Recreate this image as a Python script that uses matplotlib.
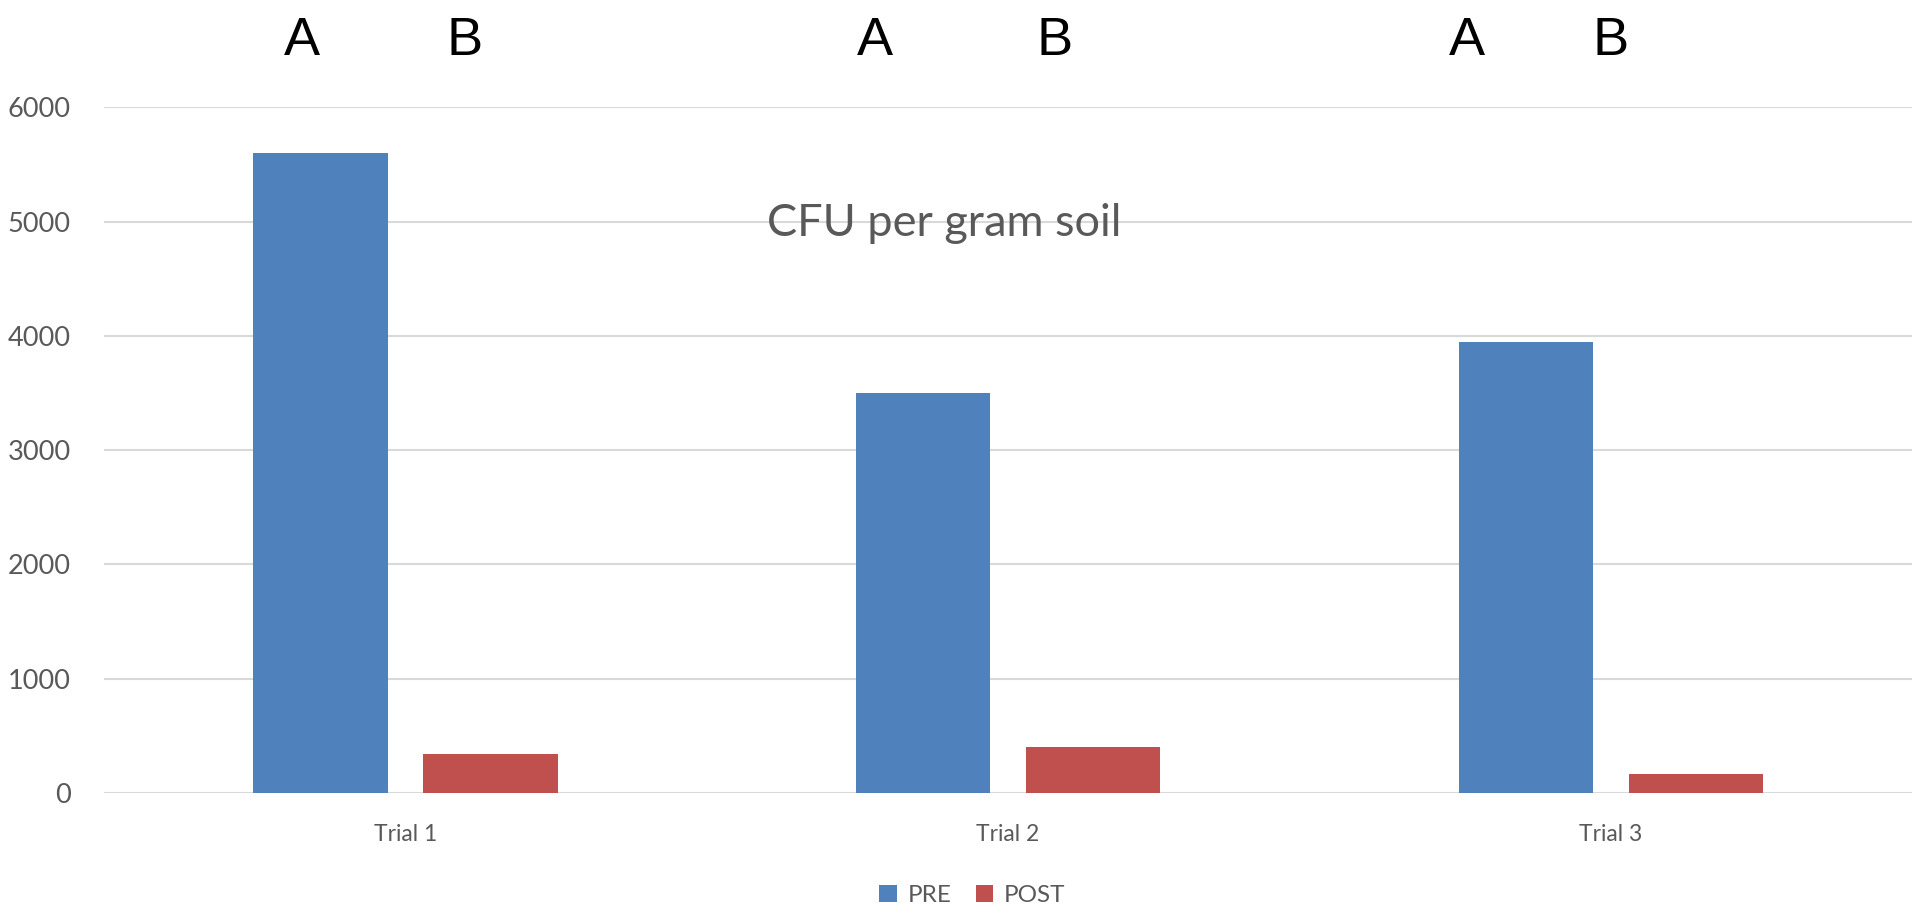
import numpy as np
import matplotlib.pyplot as plt

# Данные
trials = ['Trial 1', 'Trial 2', 'Trial 3']
pre_values = [5600, 3500, 3950]
post_values = [340, 405, 165]
series_names = ['PRE', 'POST']
yticks = [0, 1000, 2000, 3000, 4000, 5000, 6000]

# Подписи A/B над группами (смещение от центра группы)
letter_offsets_a = [-0.172, -0.221, -0.239]
letter_offsets_b = [0.098, 0.077, 0.0]

pre_color = '#4F81BD'
post_color = '#C0504D'
text_gray = '#595959'
grid_gray = '#D9D9D9'
font = ['Lato', 'DejaVu Sans']

fig = plt.figure(figsize=(19.16, 9.14), dpi=100)
ax = fig.add_axes([0.0543, 0.1324, 0.9437, 0.75])

x = np.arange(len(trials))
bar_w = 0.223
gap = 0.059
ax.bar(x - (bar_w + gap) / 2, pre_values, bar_w, color=pre_color, label=series_names[0], zorder=3)
ax.bar(x + (bar_w + gap) / 2, post_values, bar_w, color=post_color, label=series_names[1], zorder=3)

ax.set_xlim(-0.5, len(trials) - 0.5)
ax.set_ylim(0, 6000)
ax.set_yticks(yticks)
ax.set_yticklabels([str(v) for v in yticks], family=font, fontsize=19.5, color=text_gray)
ax.set_xticks(x)
ax.set_xticklabels(trials, family=font, fontsize=16.5, color=text_gray)
ax.tick_params(axis='both', length=0)
ax.tick_params(axis='y', pad=24)
ax.tick_params(axis='x', pad=22)
ax.yaxis.grid(True, color=grid_gray, linewidth=1.5, zorder=0)
for s in ax.spines.values():
    s.set_visible(False)

# Заголовок внутри области графика
fig.text(0.4927, 0.755, 'CFU per gram soil', family=font, fontsize=32.5,
         color=text_gray, ha='center', va='center')

# Буквы A и B
for i in range(len(trials)):
    ax.text(x[i] + letter_offsets_a[i], 1.097, 'A', transform=ax.get_xaxis_transform(),
            family=['Liberation Sans', 'DejaVu Sans'], fontsize=39, ha='center', va='center')
    ax.text(x[i] + letter_offsets_b[i], 1.097, 'B', transform=ax.get_xaxis_transform(),
            family=['Liberation Sans', 'DejaVu Sans'], fontsize=39, ha='center', va='center')

fig.legend(loc='center', bbox_to_anchor=(0.5075, 0.02), ncol=2, frameon=False,
           prop={'family': font, 'size': 17.5}, labelcolor=text_gray,
           handlelength=0.72, handleheight=0.72, handletextpad=0.45, columnspacing=1.0)

fig.savefig('out.png', dpi=100)
